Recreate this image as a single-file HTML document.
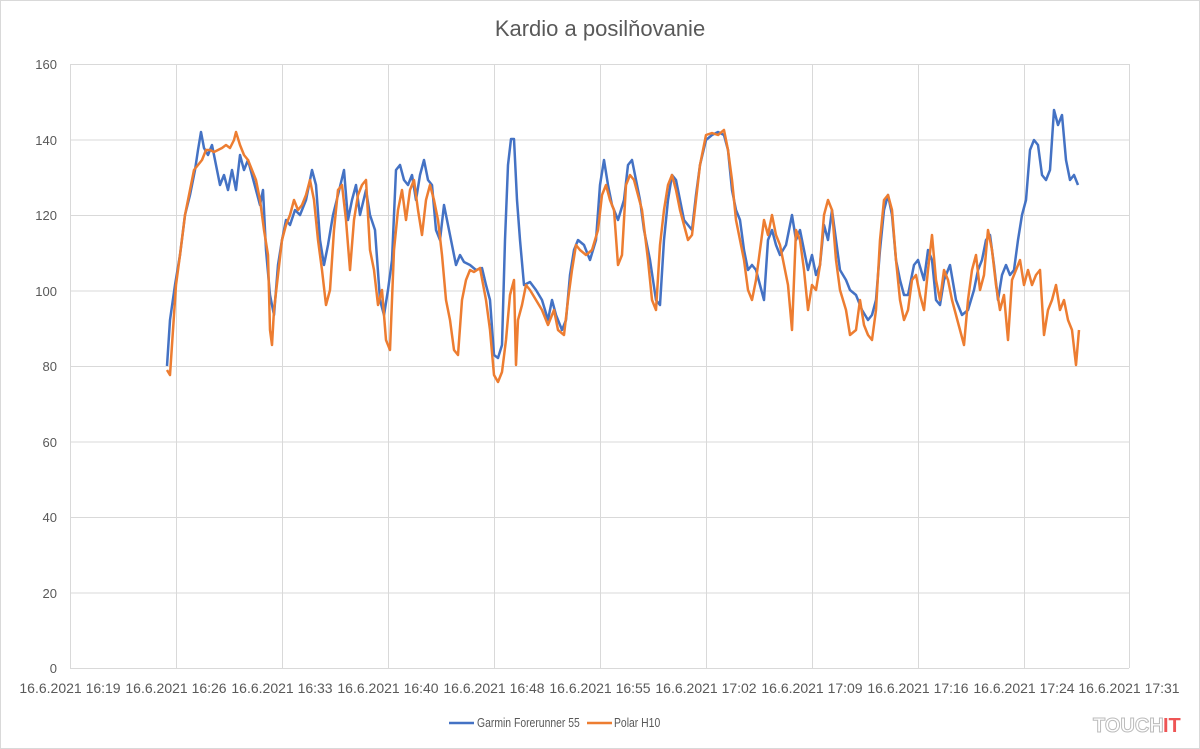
<!DOCTYPE html>
<html><head><meta charset="utf-8"><style>
html,body{margin:0;padding:0;background:#fff}
svg{display:block}
text{font-family:"Liberation Sans",sans-serif;fill:#595959}
</style></head><body>
<svg width="1200" height="749" viewBox="0 0 1200 749" xmlns="http://www.w3.org/2000/svg">
<rect x="0.5" y="0.5" width="1199" height="748" fill="#fff" stroke="#d9d9d9"/>
<text x="600" y="36" font-size="22" text-anchor="middle">Kardio a posilňovanie</text>
<g stroke="#d9d9d9" stroke-width="1">
<line x1="70" y1="64.5" x2="1129" y2="64.5"/><line x1="70" y1="140" x2="1129" y2="140"/>
<line x1="70" y1="215.5" x2="1129" y2="215.5"/><line x1="70" y1="291" x2="1129" y2="291"/>
<line x1="70" y1="366.5" x2="1129" y2="366.5"/><line x1="70" y1="442" x2="1129" y2="442"/>
<line x1="70" y1="517.5" x2="1129" y2="517.5"/><line x1="70" y1="593" x2="1129" y2="593"/>
<line x1="70" y1="668.5" x2="1129" y2="668.5"/>
<line x1="70.5" y1="64" x2="70.5" y2="668"/><line x1="176.5" y1="64" x2="176.5" y2="668"/>
<line x1="282.5" y1="64" x2="282.5" y2="668"/><line x1="388.5" y1="64" x2="388.5" y2="668"/>
<line x1="494.5" y1="64" x2="494.5" y2="668"/><line x1="600.5" y1="64" x2="600.5" y2="668"/>
<line x1="706.5" y1="64" x2="706.5" y2="668"/><line x1="812.5" y1="64" x2="812.5" y2="668"/>
<line x1="918.5" y1="64" x2="918.5" y2="668"/><line x1="1024.5" y1="64" x2="1024.5" y2="668"/>
<line x1="1129.5" y1="64" x2="1129.5" y2="668"/>
</g>
<g font-size="13" text-anchor="end">
<text x="57" y="69">160</text><text x="57" y="145">140</text><text x="57" y="220">120</text>
<text x="57" y="296">100</text><text x="57" y="371">80</text><text x="57" y="447">60</text>
<text x="57" y="522">40</text><text x="57" y="598">20</text><text x="57" y="673">0</text>
</g>
<g font-size="14" text-anchor="middle">
<text x="70" y="693">16.6.2021 16:19</text><text x="176" y="693">16.6.2021 16:26</text>
<text x="282" y="693">16.6.2021 16:33</text><text x="388" y="693">16.6.2021 16:40</text>
<text x="494" y="693">16.6.2021 16:48</text><text x="600" y="693">16.6.2021 16:55</text>
<text x="706" y="693">16.6.2021 17:02</text><text x="812" y="693">16.6.2021 17:09</text>
<text x="918" y="693">16.6.2021 17:16</text><text x="1024" y="693">16.6.2021 17:24</text>
<text x="1129" y="693">16.6.2021 17:31</text>
</g>
<polyline fill="none" stroke="#4472c4" stroke-width="2.5" stroke-linejoin="round" points="167,366 170,320 175,285 180,255 185,215 190,195 195,170 198,150 201,132 204,148 208,155 212,145 216,165 220,185 224,175 228,190 232,170 236,190 240,155 244,170 248,160 252,175 256,190 260,205 263,190 266,250 270,295 274,315 278,265 282,240 286,220 290,225 295,210 300,215 306,200 312,170 316,185 320,240 324,265 328,245 333,215 338,195 344,170 348,220 352,200 356,185 360,215 366,190 370,215 375,230 380,300 384,315 388,290 392,260 396,170 400,165 404,180 408,185 412,175 416,200 420,175 424,160 428,180 432,185 436,230 440,240 444,205 448,225 452,245 456,265 460,255 464,262 470,265 476,270 482,268 486,285 490,300 494,355 498,358 502,345 505,240 508,165 511,139 514,139 517,200 520,240 524,285 530,282 536,290 542,300 548,320 552,300 556,315 562,330 566,320 570,275 574,250 578,240 584,245 590,260 596,240 600,185 604,160 608,185 612,205 618,220 624,200 628,165 632,160 636,180 640,200 644,230 650,260 656,300 660,305 664,240 668,200 672,175 676,180 680,200 684,220 688,225 692,230 696,195 700,165 706,140 712,135 718,132 724,135 728,150 732,190 736,210 740,220 744,250 748,270 752,265 756,270 760,285 764,300 768,240 772,230 776,245 780,255 786,245 792,215 796,240 800,230 804,250 808,270 812,255 816,275 820,265 824,225 828,240 832,210 836,240 840,270 846,280 850,290 856,295 862,310 868,320 872,315 876,300 880,250 884,210 888,195 892,215 896,260 900,280 904,295 908,295 914,265 918,260 924,280 928,250 932,260 936,300 940,305 944,280 950,265 956,300 962,315 968,310 974,290 978,270 982,260 986,240 990,235 994,265 998,300 1002,275 1006,265 1010,275 1014,270 1018,240 1022,215 1026,200 1030,150 1034,140 1038,145 1042,175 1046,180 1050,170 1054,110 1058,125 1062,115 1066,160 1070,180 1074,175 1078,185"/>
<polyline fill="none" stroke="#ed7d31" stroke-width="2.5" stroke-linejoin="round" points="167,370 170,375 173,330 176,285 180,255 185,215 190,190 194,170 198,165 202,160 206,150 210,150 214,152 218,150 222,148 226,145 230,148 234,140 236,132 240,145 244,155 248,160 252,170 256,180 260,200 264,230 268,255 270,330 272,345 274,310 278,275 282,240 286,225 290,215 294,200 298,210 302,205 306,195 310,180 314,200 318,240 322,270 326,305 330,290 334,230 338,190 342,185 346,220 350,270 354,220 358,195 362,185 366,180 370,250 374,270 378,305 382,290 386,340 390,350 394,250 398,210 402,190 406,220 410,190 414,180 418,210 422,235 426,200 430,185 434,200 438,220 442,255 446,300 450,320 454,350 458,355 462,300 466,280 470,270 474,272 480,268 486,300 490,330 494,375 498,382 502,372 506,340 510,295 514,280 516,365 518,320 522,305 526,285 530,290 536,300 542,310 548,325 554,310 558,330 564,335 568,300 572,270 576,245 580,250 586,255 592,250 598,230 602,195 606,185 610,200 614,210 618,265 622,255 626,185 630,175 634,180 638,195 642,210 648,260 652,300 656,310 660,245 664,210 668,185 672,175 676,190 680,210 684,225 688,240 692,235 696,200 700,165 706,135 712,133 718,135 724,130 728,150 732,180 736,220 740,240 744,260 748,290 752,300 756,280 760,250 764,220 768,235 772,215 776,235 780,245 784,265 788,285 792,330 796,230 800,240 804,270 808,310 812,285 816,290 820,265 824,215 828,200 832,210 836,260 840,290 846,310 850,335 856,330 860,300 864,325 868,335 872,340 876,310 880,240 884,200 888,195 892,210 896,260 900,300 904,320 908,310 912,280 916,275 920,295 924,310 928,270 932,235 936,280 940,300 944,270 948,280 952,300 956,315 960,330 964,345 968,300 972,270 976,255 980,290 984,275 988,230 992,250 996,285 1000,310 1004,295 1008,340 1012,280 1016,270 1020,260 1024,285 1028,270 1032,285 1036,275 1040,270 1044,335 1048,310 1052,300 1056,285 1060,310 1064,300 1068,320 1072,330 1076,365 1079,330"/>
<line x1="449" y1="723" x2="474" y2="723" stroke="#4472c4" stroke-width="2.5"/>
<text font-size="13" transform="translate(477,727) scale(0.8,1)">Garmin Forerunner 55</text>
<line x1="587" y1="723" x2="612" y2="723" stroke="#ed7d31" stroke-width="2.5"/>
<text font-size="13" transform="translate(614,727) scale(0.8,1)">Polar H10</text>
<text x="1093" y="732" font-size="20" font-weight="bold" style="fill:#fff;stroke:#bbb;stroke-width:1">TOUCH</text>
<text x="1163" y="732" font-size="20" font-weight="bold" style="fill:#e55">IT</text>
</svg>
</body></html>
